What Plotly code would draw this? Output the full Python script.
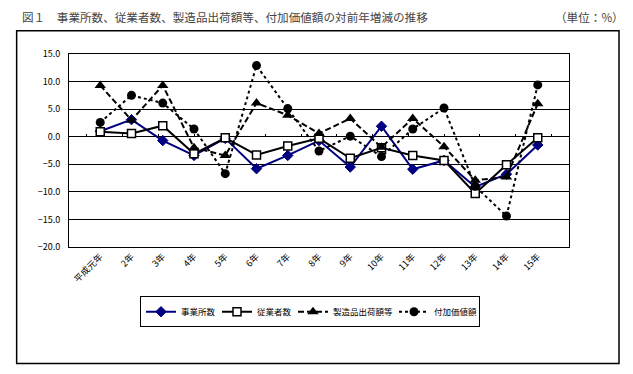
import plotly.graph_objects as go

categories = ["平成元年", "2年", "3年", "4年", "5年", "6年", "7年", "8年",
              "9年", "10年", "11年", "12年", "13年", "14年", "15年"]

establishments = [1.0, 3.1, -0.7, -3.4, -0.3, -5.8, -3.4, -0.7, -5.5, 1.9, -5.9, -4.3, -9.1, -6.8, -1.5]
employees = [0.9, 0.6, 2.0, -3.1, -0.2, -3.3, -1.7, -0.3, -3.9, -2.0, -3.4, -4.3, -10.3, -5.1, -0.2]
shipments = [9.3, 3.0, 9.3, -2.0, -3.4, 6.1, 3.9, 0.6, 3.3, -1.9, 3.3, -1.8, -7.9, -7.3, 6.0]
value_added = [2.6, 7.5, 6.1, 1.4, -6.7, 12.9, 5.1, -2.6, 0.1, -3.6, 1.4, 5.2, -9.0, -14.4, 9.4]

series_names = ["事業所数", "従業者数", "製造品出荷額等", "付加価値額"]
y_ticks = [15, 10, 5, 0, -5, -10, -15, -20]

title_text = "図１　事業所数、従業者数、製造品出荷額等、付加価値額の対前年増減の推移"
unit_text = "（単位：%）"

FONT = "Noto Sans CJK JP, sans-serif"

fig = go.Figure()

fig.add_trace(go.Scatter(
    x=categories, y=establishments, name=series_names[0], mode="lines+markers",
    line=dict(color="#000080", width=2), legendwidth=31,
    marker=dict(symbol="diamond", size=8, color="#000080", line=dict(color="#000080", width=1)),
))
fig.add_trace(go.Scatter(
    x=categories, y=employees, name=series_names[1], mode="lines+markers",
    line=dict(color="#000000", width=2), legendwidth=31,
    marker=dict(symbol="square", size=8, color="#ffffff", line=dict(color="#000000", width=1.5)),
))
fig.add_trace(go.Scatter(
    x=categories, y=shipments, name=series_names[2], mode="lines+markers",
    line=dict(color="#000000", width=2, dash="6px,3px"), legendwidth=56,
    marker=dict(symbol="triangle-up", size=10, color="#000000"),
))
fig.add_trace(go.Scatter(
    x=categories, y=value_added, name=series_names[3], mode="lines+markers",
    line=dict(color="#000000", width=2, dash="3px,3px"), legendwidth=40,
    marker=dict(symbol="circle", size=9, color="#000000"),
))

# invisible helper trace to carry the zero-line tick axis
fig.add_trace(go.Scatter(
    x=categories, y=employees, xaxis="x2", mode="lines",
    line=dict(width=0, color="rgba(0,0,0,0)"), showlegend=False, hoverinfo="skip",
))

fig.update_layout(
    width=625, height=366,
    template="none",
    paper_bgcolor="white", plot_bgcolor="white",
    margin=dict(l=61, r=64, t=46, b=127),
    font=dict(family=FONT, size=9, color="#000000"),
    showlegend=True,
    legend=dict(
        orientation="h", x=0.142, y=-0.255, xanchor="left", yanchor="top",
        bordercolor="#000000", borderwidth=1, bgcolor="white",
        font=dict(family=FONT, size=8.5, color="#000000"),
        itemwidth=30, tracegroupgap=0,
    ),
    xaxis=dict(
        type="category", categoryorder="array", categoryarray=categories,
        showgrid=False, zeroline=False,
        showline=True, linecolor="#000000", linewidth=1, mirror=True,
        ticks="", tickangle=-45, automargin=False,
        tickfont=dict(family=FONT, size=9, color="#000000"),
    ),
    xaxis2=dict(
        type="category", categoryorder="array", categoryarray=categories,
        overlaying="x", anchor="free", position=20 / 35, side="bottom",
        showgrid=False, zeroline=False, showline=False,
        ticks="inside", ticklen=3, tickwidth=1, tickcolor="#000000",
        tickson="boundaries", showticklabels=False, automargin=False,
    ),
    yaxis=dict(
        range=[-20, 15], tickvals=y_ticks, tickformat=".1f",
        showgrid=True, gridcolor="#000000", gridwidth=1,
        zeroline=False,
        showline=True, linecolor="#000000", linewidth=1, mirror=True,
        ticks="", ticklabelstandoff=6, automargin=False,
        tickfont=dict(family=FONT, size=9, color="#000000"),
    ),
    shapes=[dict(
        type="rect", xref="paper", yref="paper",
        x0=-0.1047, x1=1.100, y0=-0.6037, y1=1.1206,
        line=dict(color="#000000", width=1.5), fillcolor="rgba(0,0,0,0)", layer="below",
    )],
    annotations=[
        dict(text=title_text, xref="paper", yref="paper", x=-0.099, y=1.191,
             xanchor="left", yanchor="middle", showarrow=False,
             font=dict(family=FONT, size=11.6, color="#444444")),
        dict(text=unit_text, xref="paper", yref="paper", x=1.113, y=1.191,
             xanchor="right", yanchor="middle", showarrow=False,
             font=dict(family=FONT, size=11.6, color="#444444")),
    ],
)

fig.write_html("out.html")
